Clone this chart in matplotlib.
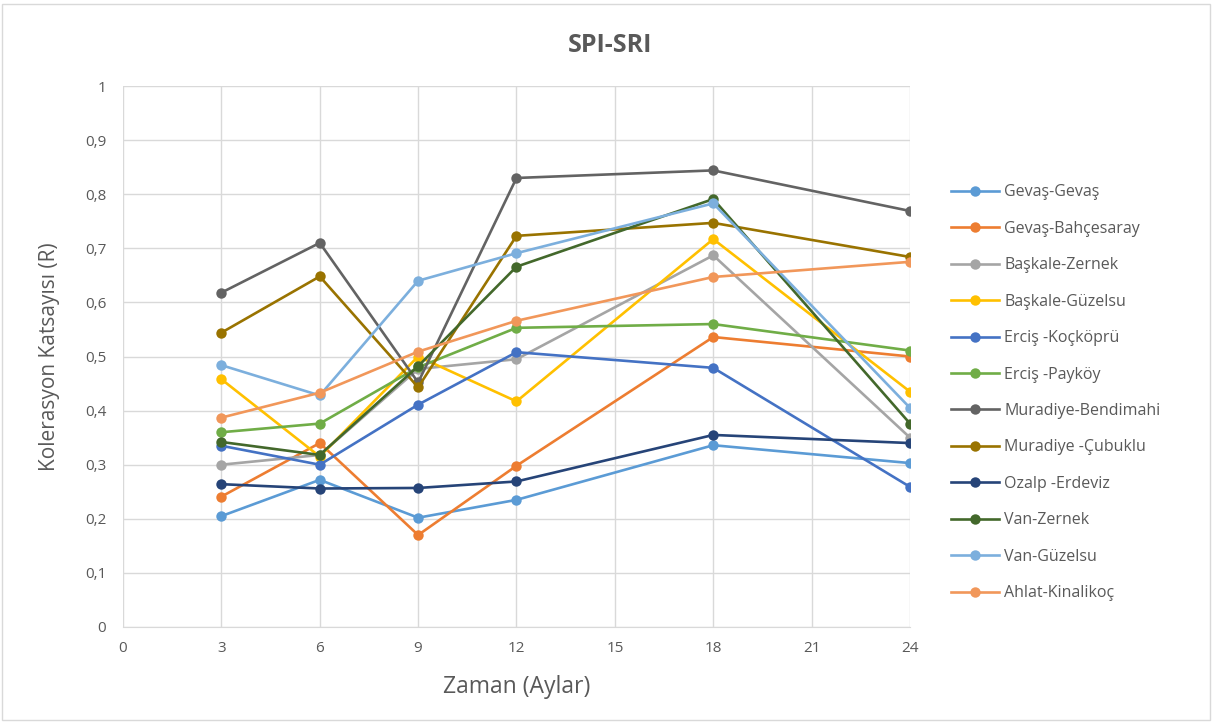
import matplotlib
matplotlib.use("Agg")
import matplotlib.pyplot as plt
from matplotlib.patches import Rectangle

plt.rcParams['font.family'] = ['Open Sans', 'DejaVu Sans']

months = [3, 6, 9, 12, 18, 24]

series_names = [
    "Gevaş-Gevaş", "Gevaş-Bahçesaray", "Başkale-Zernek", "Başkale-Güzelsu",
    "Erciş -Koçköprü", "Erciş -Payköy", "Muradiye-Bendimahi", "Muradiye -Çubuklu",
    "Ozalp -Erdeviz", "Van-Zernek", "Van-Güzelsu", "Ahlat-Kinalikoç",
]

gevas_gevas = [0.205, 0.272, 0.202, 0.235, 0.336, 0.303]
gevas_bahcesaray = [0.241, 0.340, 0.170, 0.298, 0.536, 0.500]
baskale_zernek = [0.300, 0.318, 0.477, 0.495, 0.687, 0.350]
baskale_guzelsu = [0.458, 0.315, 0.500, 0.417, 0.717, 0.435]
ercis_kockopru = [0.335, 0.300, 0.411, 0.508, 0.479, 0.259]
ercis_paykoy = [0.360, 0.376, 0.480, 0.553, 0.560, 0.511]
muradiye_bendimahi = [0.618, 0.710, 0.452, 0.830, 0.844, 0.769]
muradiye_cubuklu = [0.544, 0.648, 0.443, 0.723, 0.747, 0.684]
ozalp_erdeviz = [0.264, 0.256, 0.257, 0.269, 0.355, 0.340]
van_zernek = [0.342, 0.318, 0.482, 0.666, 0.791, 0.376]
van_guzelsu = [0.484, 0.428, 0.640, 0.691, 0.783, 0.405]
ahlat_kinalikoc = [0.387, 0.433, 0.509, 0.566, 0.647, 0.675]

all_series = [gevas_gevas, gevas_bahcesaray, baskale_zernek, baskale_guzelsu,
              ercis_kockopru, ercis_paykoy, muradiye_bendimahi, muradiye_cubuklu,
              ozalp_erdeviz, van_zernek, van_guzelsu, ahlat_kinalikoc]

colors = ["#5B9BD5", "#ED7D31", "#A5A5A5", "#FFC000", "#4472C4", "#70AD47",
          "#636363", "#997300", "#264478", "#43682B", "#7CAFDD", "#F1975A"]

x_ticks = [0, 3, 6, 9, 12, 15, 18, 21, 24]
y_ticks = [0, 0.1, 0.2, 0.3, 0.4, 0.5, 0.6, 0.7, 0.8, 0.9, 1.0]
y_tick_labels = ["0", "0,1", "0,2", "0,3", "0,4", "0,5", "0,6", "0,7", "0,8", "0,9", "1"]

text_color = "#595959"

fig = plt.figure(figsize=(12.12, 7.22), dpi=100)
ax = fig.add_axes([123/1212, 1 - 627/722, (910 - 123)/1212, (627 - 86)/722])

for name, vals, c in zip(series_names, all_series, colors):
    ax.plot(months, vals, color=c, lw=1.9, marker='o', markersize=7.5,
            markeredgewidth=0, label=name, zorder=3)

ax.set_xlim(0, 24)
ax.set_ylim(0, 1)
ax.set_xticks(x_ticks)
ax.set_yticks(y_ticks)
ax.set_yticklabels(y_tick_labels)
ax.grid(True, color="#D9D9D9", lw=1.0, zorder=0)
for s in ["top", "right", "left"]:
    ax.spines[s].set_visible(False)
ax.spines["bottom"].set_color("#D9D9D9")
ax.tick_params(axis='both', length=0, colors=text_color, labelsize=11, pad=10)
ax.tick_params(axis='y', pad=12)

ax.set_xlabel("Zaman (Aylar)", fontsize=16.5, color=text_color, labelpad=14)
ax.set_ylabel("Kolerasyon Katsayısı (R)", fontsize=15, color=text_color, labelpad=18)

fig.text(610/1212, 1 - 45/722, "SPI-SRI", ha='center', va='center',
         fontsize=18, fontweight='bold', color=text_color)

leg = fig.legend(loc='upper left', bbox_to_anchor=(937/1212, 1 - 170/722),
                 frameon=False, fontsize=11.5, labelspacing=1.28,
                 handlelength=3.0, handletextpad=0.3, labelcolor=text_color)

fig.patches.append(Rectangle((0.002, 0.003), 0.996, 0.992, transform=fig.transFigure,
                             fill=False, edgecolor="#D9D9D9", lw=1.0))

fig.savefig("out.png", dpi=100, facecolor="white")
